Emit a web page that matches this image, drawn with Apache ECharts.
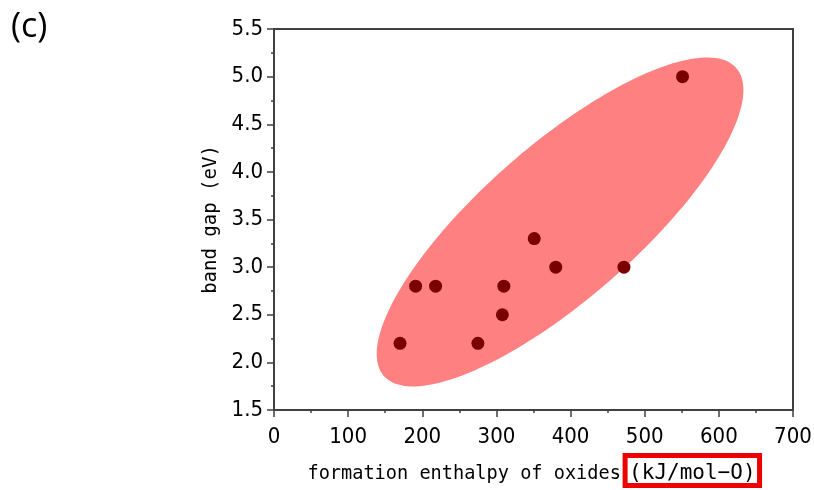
<!DOCTYPE html>
<html><head><meta charset="utf-8">
<script src="https://cdn.jsdelivr.net/npm/echarts@6/dist/echarts.min.js"></script>
<style>html,body{margin:0;padding:0;background:#fff}#c{width:814px;height:490px}</style>
</head><body><div id="c"></div>
<script>
// formation enthalpy of oxides (kJ/mol-O)
const enthalpy = [170, 191, 218, 275, 308, 310, 351, 380, 472, 551];
// band gap (eV)
const bandGap = [2.2, 2.8, 2.8, 2.2, 2.5, 2.8, 3.3, 3.0, 3.0, 5.0];
// highlight ellipse in data units: centre, end of major semi-axis, end of minor semi-axis
const ellipseCenter = [385.8, 3.474];
const ellipseMajorEnd = [623.5, 5.09];
const ellipseMinorEnd = [454.0, 2.865];
const xTicks = [0, 700, 100];
const yTicks = [1.5, 5.5, 0.5];

const chart = echarts.init(document.getElementById('c'), null, {renderer: 'canvas'});
const pts = enthalpy.map((x, i) => [x, bandGap[i]]);
const axisFont = "'DejaVu Sans Condensed', 'Liberation Sans', Arial, sans-serif";
const nameFont = "'DejaVu Sans Mono', 'Liberation Mono', monospace";

chart.setOption({
  animation: false,
  title: {text: '(c)', left: 6, top: 5, textStyle: {fontSize: 34, fontWeight: 'normal', color: '#000', fontFamily: "'Open Sans', sans-serif"}},
  grid: {left: 274, right: 21, top: 29, bottom: 80, containLabel: false, outerBoundsMode: 'none',
    show: true, borderColor: '#404040', borderWidth: 2, backgroundColor: 'transparent'},
  xAxis: {
    type: 'value', min: xTicks[0], max: xTicks[1], interval: xTicks[2],
    name: '{a|formation enthalpy of oxides}{s| }{b|(kJ/mol\u2212O)}',
    nameLocation: 'middle', nameGap: 42,
    nameTextStyle: {rich: {
      a: {fontSize: 18.6, fontFamily: nameFont, color: '#000', padding: [8, 0, 1, 0]},
      s: {fontSize: 7, fontFamily: nameFont, padding: [8, 0, 1, 0]},
      b: {fontSize: 21, fontFamily: nameFont, color: '#000', borderColor: '#ee0000', borderWidth: 5, padding: [8, 4, 1, 4]}
    }},
    axisLine: {show: true, lineStyle: {color: '#404040', width: 2}},
    axisTick: {show: true, inside: false, length: 7, lineStyle: {color: '#404040', width: 1.5}},
    minorTick: {show: true, splitNumber: 2, length: 3, lineStyle: {color: '#404040', width: 1.5}},
    axisLabel: {fontSize: 22, color: '#000', fontFamily: axisFont, margin: 16},
    splitLine: {show: false}
  },
  yAxis: {
    type: 'value', min: yTicks[0], max: yTicks[1], interval: yTicks[2],
    name: 'band gap (eV)', nameLocation: 'middle', nameGap: 42,
    nameTextStyle: {fontSize: 19, fontFamily: nameFont, color: '#000'},
    axisLine: {show: true, lineStyle: {color: '#404040', width: 2}},
    axisTick: {show: true, inside: false, length: 7, lineStyle: {color: '#404040', width: 1.5}},
    minorTick: {show: true, splitNumber: 2, length: 3, lineStyle: {color: '#404040', width: 1.5}},
    axisLabel: {fontSize: 22, color: '#000', fontFamily: axisFont, margin: 11, formatter: v => v.toFixed(1)},
    splitLine: {show: false}
  },
  series: [
    {
      type: 'custom', z: 1, silent: true,
      data: [[...ellipseCenter, ...ellipseMajorEnd, ...ellipseMinorEnd]],
      encode: {x: [0], y: [1]},
      renderItem: (params, api) => {
        const c = api.coord([api.value(0), api.value(1)]);
        const a = api.coord([api.value(2), api.value(3)]);
        const b = api.coord([api.value(4), api.value(5)]);
        const ax = [a[0] - c[0], a[1] - c[1]], bx = [b[0] - c[0], b[1] - c[1]];
        const poly = [];
        for (let i = 0; i < 180; i++) {
          const t = i / 180 * Math.PI * 2;
          poly.push([c[0] + ax[0] * Math.cos(t) + bx[0] * Math.sin(t), c[1] + ax[1] * Math.cos(t) + bx[1] * Math.sin(t)]);
        }
        return {type: 'polygon', shape: {points: poly}, style: {fill: '#ff8080'}};
      }
    },
    {
      type: 'scatter', z: 3, data: pts, symbol: 'circle', symbolSize: 13,
      itemStyle: {color: '#7a0000', opacity: 1}
    }
  ]
});
</script></body></html>
